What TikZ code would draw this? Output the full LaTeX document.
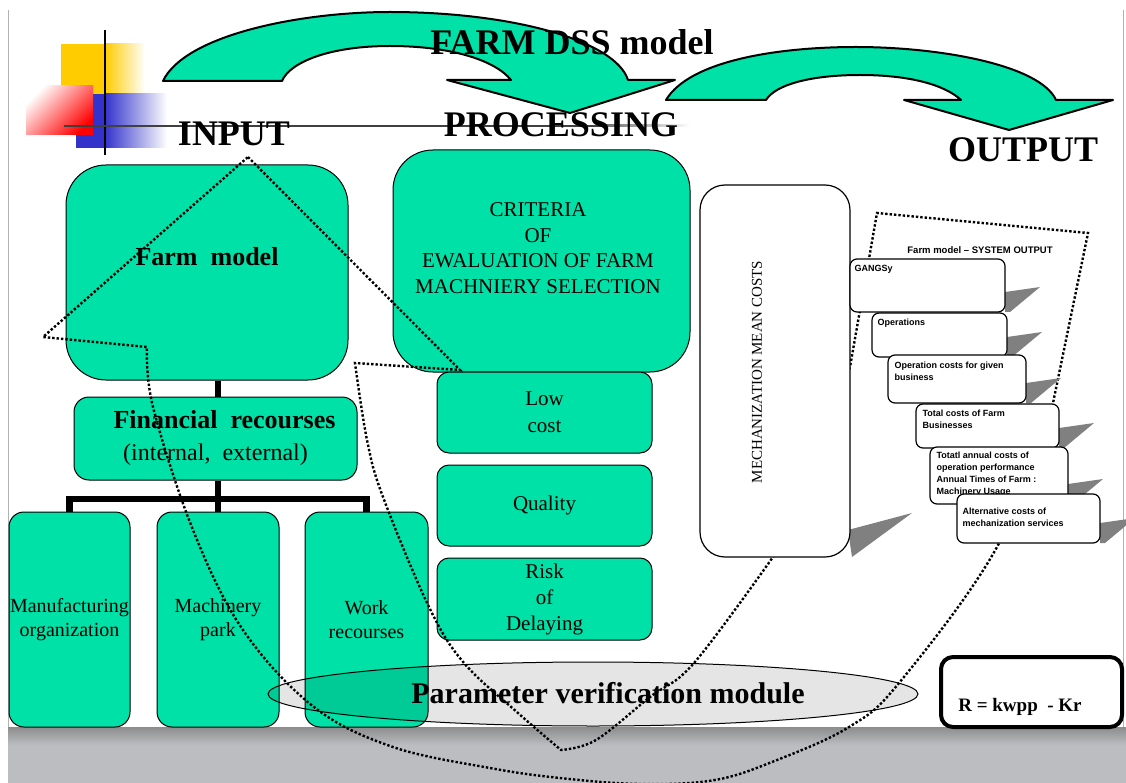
\documentclass[tikz,border=0pt]{standalone}
\usepackage{fontspec}
\setmainfont{Liberation Serif}
\setsansfont{Liberation Sans}
\usetikzlibrary{shapes.geometric}
\definecolor{dssgreen}{RGB}{0,225,168}
\definecolor{bandgray}{RGB}{187,189,193}
\definecolor{decoyellow}{RGB}{255,204,0}
\definecolor{decoblue}{RGB}{51,51,204}
\begin{document}
\begin{tikzpicture}[x=1pt,y=-1pt,
  greenbox/.style={draw=black, fill=dssgreen, line width=1pt, inner sep=0pt, align=center},
  outbox/.style={draw=black, fill=white, line width=1.2pt, rounded corners=7pt, inner sep=0pt},
  outtxt/.style={font=\sffamily\bfseries\fontsize{9}{12}\selectfont, align=left, inner sep=0pt, anchor=north west},
  treeline/.style={line width=6.5pt},
  dotline/.style={dotted, line width=2.4pt},
  bigarrow/.style={fill=dssgreen, draw=black, line width=2pt, line join=round},
  shadowwedge/.style={fill=black!50},
  headtxt/.style={font=\bfseries\fontsize{36}{40}\selectfont}]
\useasboundingbox (0,0) rectangle (1126,783);
\fill[white] (0,0) rectangle (1126,783);
\fill[bandgray] (8,727) rectangle (1126,783);
\shade[top color=black!45, bottom color=bandgray] (8,727) rectangle (1126,745);
\draw[black!30, line width=1pt] (8,10) -- (8,727);
\draw[black!30, line width=1pt] (1123,10) -- (1123,727);
\fill[decoyellow] (61,44) rectangle (105,94);
\shade[left color=decoyellow, right color=white] (105,44) rectangle (145,94);
\fill[decoblue] (76,94) rectangle (105,148);
\shade[left color=decoblue, right color=white] (105,94) rectangle (167,148);
\shade[left color=white, right color=red, shading angle=45] (26,86) rectangle (93,135);
\draw[line width=2.5pt] (105,30) -- (105,155);
\draw[line width=2pt, black!75] (64,126) -- (600,126);
\shade[left color=black!60, right color=white] (600,125) rectangle (690,127);
\draw[bigarrow] (163,81) .. controls (185,35) and (300,12) .. (390,12) .. controls (510,12) and (615,40) .. (628,80)
  -- (675,80) -- (570,113) -- (447,80) -- (511,80) .. controls (495,60) and (450,46) .. (390,46)
  .. controls (330,46) and (290,62) .. (282,81) -- cycle;
\draw[bigarrow] (666,100) .. controls (690,60) and (780,47) .. (856,47) .. controls (940,47) and (1040,65) .. (1056,100)
  -- (1113,100) -- (1009,130) -- (904,100) -- (961,100) .. controls (945,85) and (910,75) .. (860,75)
  .. controls (810,75) and (775,85) .. (766,100) -- cycle;
\node[headtxt] (farmdss) at (572,42) {FARM DSS model};
\node[headtxt] (input) at (234,134) {INPUT};
\node[headtxt] (processing) at (561,125) {PROCESSING};
\node[headtxt] (output) at (1023,150) {OUTPUT};
\node[greenbox, rounded corners=40pt, minimum width=282pt, minimum height=215pt] (farm) at (207,272.5) {};
\node[font=\bfseries\fontsize{26}{30}\selectfont] (farmtxt) at (207,257) {Farm\ \ model};
\node[greenbox, rounded corners=15pt, minimum width=283pt, minimum height=83pt, font=\fontsize{24}{32}\selectfont] (fin) at (215.5,438.5)
  {\hspace*{18pt}{\bfseries\fontsize{26}{32}\selectfont Financial\ \ recourses}\\(internal,\ \ external)};
\node[greenbox, rounded corners=15pt, minimum width=121pt, minimum height=215pt, font=\fontsize{20}{24}\selectfont] (manuf) at (69.5,619.5) {Manufacturing\\organization};
\node[greenbox, rounded corners=15pt, minimum width=122pt, minimum height=215pt, font=\fontsize{20}{24}\selectfont] (mach) at (218,619.5) {Machinery\\park};
\node[greenbox, rounded corners=15pt, minimum width=123pt, minimum height=215pt, font=\fontsize{20}{24}\selectfont] (work) at (366.5,619.5) {Work\\recourses};
\coordinate (bar) at (218,499);
\draw[treeline] (farm.south -| bar) -- (fin.north -| bar);
\draw[treeline] (fin.south -| bar) -- (bar);
\draw[treeline] (manuf.north) |- (bar) -| (work.north);
\draw[treeline] (bar) -- (mach.north);
\node[greenbox, rounded corners=40pt, minimum width=297pt, minimum height=222pt] (crit) at (541.5,261) {};
\node[font=\fontsize{21}{25.5}\selectfont, align=center] (crittxt) at (538,248) {CRITERIA\\OF\\EWALUATION OF FARM\\MACHNIERY SELECTION};
\node[greenbox, rounded corners=12pt, minimum width=215pt, minimum height=81pt, font=\fontsize{21}{27}\selectfont] (low) at (544.5,412.5) {Low\\cost};
\node[greenbox, rounded corners=12pt, minimum width=215pt, minimum height=81pt, font=\fontsize{21}{27}\selectfont] (qual) at (544.5,505.5) {Quality};
\node[greenbox, rounded corners=12pt, minimum width=215pt, minimum height=82pt, font=\fontsize{21}{26}\selectfont] (risk) at (544.5,599) {Risk\\of\\Delaying};
\node[ellipse, draw=black, line width=1pt, fill=black, fill opacity=0.1, minimum width=650pt, minimum height=64pt] (verif) at (593,694) {};
\node[font=\bfseries\fontsize{30}{34}\selectfont, anchor=base] (veriftxt) at (608,703) {Parameter verification module};
\draw[dotline] (248,157) -- (460,370) -- (355,363)
  -- plot[smooth, tension=0.6] coordinates {(355,363) (367,440) (383,497) (429,607) (464,663) (518,713) (561,750)}
  -- plot[smooth, tension=0.6] coordinates {(561,750) (596,740) (650,697) (694,663) (773,557)}
  -- (850,367) -- (877,213) -- (1088,233) -- (1053,403)
  -- plot[smooth, tension=0.6] coordinates {(1053,403) (997,547) (899,683) (849,727) (777,760) (715,780) (640,784)
     (560,778) (490,768) (393,747) (314,707) (243,630) (193,530) (153,407) (147,347)}
  -- (43,337) -- cycle;
\fill[shadowwedge] (848,530) -- (912,513) -- (852,557) -- cycle;
\node[draw=black, fill=white, line width=1.2pt, rounded corners=25pt, minimum width=150pt, minimum height=372pt] (mech) at (775,371) {};
\node[rotate=90, font=\fontsize{15}{18}\selectfont] (mechtxt) at (757,372) {MECHANIZATION MEAN COSTS};
\node[font=\sffamily\bfseries\fontsize{9.5}{12}\selectfont] (outtitle) at (980,250) {Farm model -- SYSTEM OUTPUT};
\foreach \r/\b in {1005/312, 1007/357, 1026/403, 1059/448, 1068/504, 1100/543}
  \fill[shadowwedge] (\r,\b-20) -- (\r+35,\b-25) -- (\r+5,\b) -- (\r,\b) -- cycle;
\node[outbox, minimum width=155pt, minimum height=53pt] (out1) at (927.5,285.5) {};
\node[outtxt] (txt1) at ([xshift=5pt,yshift=-7pt]out1.north west) {GANGSy};
\node[outbox, minimum width=135pt, minimum height=44pt] (out2) at (939.5,335) {};
\node[outtxt] (txt2) at ([xshift=6pt,yshift=-6pt]out2.north west) {Operations};
\node[outbox, minimum width=138pt, minimum height=48pt] (out3) at (957,379) {};
\node[outtxt] (txt3) at ([xshift=7pt,yshift=-7pt]out3.north west) {Operation costs for given\\business};
\node[outbox, minimum width=143pt, minimum height=44pt] (out4) at (987.5,426) {};
\node[outtxt] (txt4) at ([xshift=7pt,yshift=-6pt]out4.north west) {Total costs of Farm\\Businesses};
\node[outbox, minimum width=138pt, minimum height=57pt] (out5) at (999,475.5) {};
\node[outtxt] (txt5) at ([xshift=7pt,yshift=-5pt]out5.north west) {Totatl annual costs of\\operation performance\\Annual Times of Farm :\\Machinery Usage};
\node[outbox, minimum width=143pt, minimum height=49pt] (out6) at (1028.5,518.5) {};
\node[outtxt] (txt6) at ([xshift=6pt,yshift=-14pt]out6.north west) {Alternative costs of\\mechanization services};
\node[draw=black, fill=white, line width=4pt, rounded corners=12pt, minimum width=181pt, minimum height=70pt] (rbox) at (1031.5,692) {};
\node[font=\bfseries\fontsize{19}{22}\selectfont, anchor=base] (rtxt) at (1020,711) {R = kwpp\ \ - Kr};
\end{tikzpicture}
\end{document}
